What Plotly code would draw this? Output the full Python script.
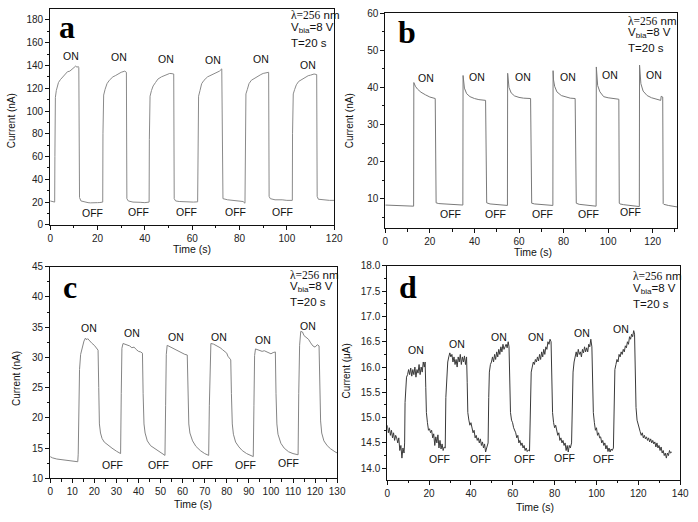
import plotly.graph_objects as go

# ---------------- data ----------------
a_time = [0, 1, 1.9, 2.0, 2.2, 2.6, 3.0, 3.5, 4.3, 5.3, 6.3, 7.3, 8.3, 9.4, 10.1, 10.8, 11.3, 11.9, 12.1,
          12.4, 13, 14.5, 16, 17, 18, 19, 20, 21, 22.2,
          22.3, 22.6, 23.2, 24, 25, 26.5, 27.5, 29, 30, 31.5, 32.2,
          32.4, 33, 35, 36.5, 38, 40, 41.8,
          41.9, 42.2, 42.8, 43.5, 44.5, 45.5, 47, 48, 49.5, 50.5, 51.5, 52.2,
          52.4, 53, 54.5, 56, 58, 59, 60.5, 62.3,
          62.4, 62.7, 63.3, 64, 65, 66.5, 67.5, 69, 70, 71.5, 72.5,
          72.7, 73, 75, 77, 78, 80, 81.5, 82.3,
          82.4, 82.7, 83.3, 84, 85, 86.5, 87.5, 89, 90, 91.5, 92.3,
          92.5, 93, 95, 96.5, 98, 100, 102.3,
          102.4, 102.7, 103.3, 104, 105, 106.5, 107.5, 109, 110, 111.5, 112.6,
          112.8, 113.3, 115, 116.5, 118, 120]
a_current = [21, 20.3, 20, 60, 112, 118, 121, 125, 127.5, 130, 132, 134.5, 135, 137, 138, 139.5, 138.5, 139, 138,
             24, 21, 20, 19.5, 19.3, 19.2, 19, 19.5, 19.6, 20,
             80, 114, 119, 124, 127, 130, 131, 133, 134, 135, 134,
             23, 21, 20, 20.2, 19.8, 19.5, 20,
             75, 113, 118, 122, 125, 128, 130, 131, 132, 133, 132.8, 132.5,
             23, 21, 20.5, 20.3, 20, 20.2, 20, 20.2,
             80, 113, 118, 124, 127, 130, 131, 132.5, 133.5, 135, 137,
             25, 23, 22, 21.5, 21.2, 21, 20.5, 19,
             80, 115, 119, 124, 127, 129, 130.5, 132, 133, 133.5, 134,
             25, 23, 22, 22.2, 22, 21.5, 21.5,
             80, 115, 119, 123, 126, 128, 129.5, 131, 131.5, 132.5, 132,
             25, 22.5, 22, 21.5, 21.5, 21.5]

b_time = [0, 4, 8, 12.7, 12.8, 13.0, 13.5, 14.5, 16, 18, 20, 22.4, 22.5, 22.8, 24, 28, 32, 34.8,
          34.9, 35.1, 35.5, 36.5, 38, 40, 42, 45.0, 45.2, 45.5, 47, 51, 54.8,
          54.9, 55.1, 55.5, 56.5, 58, 60, 62, 65.2, 65.4, 65.7, 67, 71, 75.2,
          75.3, 75.5, 76, 77, 79, 81, 83, 85.2, 85.4, 85.7, 87, 91, 94.6,
          94.7, 94.9, 95.3, 96.3, 98, 100, 102, 104.8, 105, 105.3, 107, 111, 114.0,
          114.1, 114.3, 114.7, 115.7, 117.5, 119.5, 121.5, 123.6, 123.8, 124.5, 124.7, 125, 127, 131]
b_current = [8.3, 8.2, 8.1, 8.0, 41.3, 41.0, 40.3, 39.5, 38.7, 38.0, 37.4, 37.0, 9.0, 8.9, 8.7, 8.5, 8.4, 8.3,
             43.2, 41.5, 39.8, 38.3, 37.5, 37.0, 36.7, 36.5, 9.2, 8.9, 8.6, 8.4, 8.2,
             43.8, 41.8, 40.0, 38.5, 37.7, 37.3, 37.1, 37.0, 9.0, 8.8, 8.6, 8.4, 8.2,
             44.5, 42.0, 40.3, 38.8, 37.8, 37.4, 37.1, 37.0, 9.0, 8.8, 8.5, 8.2, 8.0,
             45.5, 42.5, 40.5, 38.8, 37.5, 37.2, 37.1, 36.8, 8.8, 8.6, 8.4, 8.1, 7.9,
             46.0, 43.0, 41.0, 39.0, 37.8, 37.2, 36.8, 36.5, 37.6, 37.4, 8.7, 8.5, 8.2, 7.8]

c_time = [0, 1, 3, 5, 7, 9, 11, 12.5, 12.7, 13.0, 13.3, 13.8, 14.5, 15.3, 16, 16.5, 17, 18, 19, 20, 21, 21.7,
          22.0, 22.3, 22.8, 23.5, 24.5, 26, 28, 30, 31.5, 31.9,
          32.2, 32.5, 33, 34, 35, 36, 37, 38, 39, 40, 41, 41.8,
          42.1, 42.5, 43, 44, 45.5, 47, 49, 51, 52.0,
          52.3, 52.6, 53, 54, 55, 56, 57, 58, 59, 60, 61, 62.1,
          62.4, 62.8, 63.3, 64.5, 66, 68, 70, 71.8,
          72.1, 72.4, 72.8, 74, 75, 76, 77, 78, 79, 80, 80.5, 81, 81.8,
          82.1, 82.5, 83, 84, 85.5, 87, 89, 91, 92.0,
          92.3, 92.6, 93, 94, 95, 96, 97, 98, 99, 100, 101, 102,
          102.3, 102.7, 103.2, 104.5, 106, 108, 110, 112.3,
          112.6, 113, 113.5, 114.3, 115, 116, 117, 118, 119, 120, 121, 121.8,
          122.1, 122.5, 123, 124, 125.5, 127, 129, 130]
c_current = [13.6, 13.4, 13.2, 13.1, 13.0, 12.9, 12.8, 12.75, 14, 22, 28, 30.5, 31.8, 32.7, 33.2, 32.9, 33.1, 32.6, 32.3, 32.0, 31.5, 31.2,
             25, 19, 17.5, 16.6, 16.0, 15.5, 15.0, 14.5, 14.2, 14.1,
             24, 31.5, 32.3, 32.2, 32.0, 31.9, 31.6, 31.7, 31.3, 31.0, 30.9, 30.7,
             24, 19, 17.5, 16.2, 15.4, 15.0, 14.5, 14.0, 13.8,
             22, 30.5, 32.0, 31.8, 31.6, 31.5, 31.2, 31.0, 30.8, 30.7, 30.5, 30.4,
             24, 19, 17.5, 16.2, 15.3, 14.6, 14.1, 13.8,
             22, 30.5, 32.3, 32.2, 32.0, 31.9, 31.6, 31.3, 31.0, 30.7, 30.2, 29.9, 29.6,
             24, 19, 17.3, 16.0, 15.2, 14.6, 14.1, 13.7, 13.6,
             22, 30.3, 31.4, 31.3, 31.2, 31.0, 31.1, 30.9, 30.8, 30.6, 30.8, 30.9,
             24, 19, 17.3, 15.8, 15.0, 14.4, 14.1, 13.9,
             24, 32, 34.3, 34.2, 33.6, 33.3, 33.0, 32.4, 31.9, 31.7, 32.1, 31.9,
             25, 19.5, 17.5, 16.2, 15.4, 14.9, 14.4, 14.2]

d_time = [0, 0.5, 1, 1.5, 2, 2.5, 3, 3.5, 4, 4.5, 5, 5.5, 6, 6.5, 7, 7.5, 8, 8.3,
          8.5, 8.8, 9.2, 9.7, 10.2, 10.7, 11.2, 11.7, 12.2, 12.7, 13.2, 13.7, 14.2, 14.7, 15.2, 15.7, 16.2, 16.7, 17.2, 17.7, 18.1,
          18.4, 18.7, 19.2, 19.7, 20.2, 20.7, 21.2, 21.7, 22.2, 22.7, 23.2, 23.7, 24.2, 24.7, 25.2, 25.7, 26.2, 26.7, 27.2, 27.7,
          28.0, 28.4, 28.9, 29.4, 29.9, 30.4, 30.9, 31.4, 31.9, 32.4, 32.9, 33.4, 33.9, 34.4, 34.9, 35.4, 35.9, 36.4, 36.9, 37.4, 37.9,
          38.2, 38.5, 39, 39.5, 40, 40.5, 41, 41.5, 42, 42.5, 43, 43.5, 44, 44.5, 45, 45.5, 46, 46.5, 47, 47.5, 48.2,
          48.5, 48.8, 49.3, 49.8, 50.3, 50.8, 51.3, 51.8, 52.3, 52.8, 53.3, 53.8, 54.3, 54.8, 55.3, 55.8, 56.3, 56.8, 57.3, 57.8, 58.2,
          58.5, 58.9, 59.4, 59.9, 60.4, 60.9, 61.4, 61.9, 62.4, 62.9, 63.4, 63.9, 64.4, 64.9, 65.4, 65.9, 66.4, 66.9, 67.4, 68.0,
          68.5, 68.8, 69.3, 69.8, 70.3, 70.8, 71.3, 71.8, 72.3, 72.8, 73.3, 73.8, 74.3, 74.8, 75.3, 75.8, 76.3, 76.8, 77.3, 77.8, 78.3,
          78.6, 79, 79.5, 80, 80.5, 81, 81.5, 82, 82.5, 83, 83.5, 84, 84.5, 85, 85.5, 86, 86.5, 87, 87.5, 88.1,
          88.4, 88.8, 89.3, 89.8, 90.3, 90.8, 91.3, 91.8, 92.3, 92.8, 93.3, 93.8, 94.3, 94.8, 95.3, 95.8, 96.3, 96.8, 97.3, 97.8,
          98.1, 98.5, 99, 99.5, 100, 100.5, 101, 101.5, 102, 102.5, 103, 103.5, 104, 104.5, 105, 105.5, 106, 106.5, 107, 107.5, 108.1,
          108.4, 108.8, 109.3, 109.8, 110.3, 110.8, 111.3, 111.8, 112.3, 112.8, 113.3, 113.8, 114.3, 114.8, 115.3, 115.8, 116.3, 116.8, 117.3, 117.8, 118.2,
          118.5, 118.9, 119.4, 119.9, 120.4, 120.9, 121.4, 121.9, 122.4, 122.9, 123.4, 123.9, 124.4, 124.9, 125.4, 125.9, 126.4, 126.9,
          127.4, 127.9, 128.4, 128.9, 129.4, 129.9, 130.4, 130.9, 131.4, 131.9, 132.4, 132.9, 133.4, 133.9, 134.4, 134.9, 135.4, 136]
d_current = [14.85, 14.7, 14.8, 14.65, 14.75, 14.6, 14.7, 14.55, 14.65, 14.6, 14.5, 14.6, 14.35, 14.45, 14.2, 14.4, 14.3, 14.5,
             15.3, 15.6, 15.8, 15.85, 15.95, 15.85, 15.98, 15.82, 15.95, 15.85, 16.0, 15.8, 15.95, 15.88, 16.05, 15.85, 16.0, 15.9, 16.1, 16.0, 16.1,
             15.6, 15.1, 14.9, 14.75, 14.78, 14.7, 14.75, 14.6, 14.68, 14.45, 14.62, 14.5, 14.66, 14.4, 14.55, 14.38, 14.48, 14.35, 14.42, 14.4,
             15.4, 15.9, 16.1, 16.2, 16.28, 16.2, 16.25, 16.1, 16.2, 16.05, 16.15, 16.0, 16.2, 16.1, 16.25, 16.05, 16.2, 16.1, 16.22, 16.05, 16.2,
             15.7, 15.1, 14.95, 14.85, 14.9, 14.75, 14.7, 14.75, 14.6, 14.65, 14.55, 14.6, 14.5, 14.58, 14.45, 14.52, 14.4, 14.48, 14.32, 14.4, 14.5,
             15.4, 15.9, 16.05, 16.1, 16.2, 16.1, 16.25, 16.15, 16.3, 16.2, 16.35, 16.25, 16.4, 16.3, 16.45, 16.35, 16.4, 16.45, 16.38, 16.5, 16.4,
             15.6, 15.1, 14.95, 14.9, 14.8, 14.75, 14.7, 14.6, 14.65, 14.5, 14.55, 14.45, 14.5, 14.4, 14.45, 14.35, 14.4, 14.33, 14.36, 14.34,
             15.3, 15.9, 16.0, 16.1, 16.05, 16.15, 16.1, 16.2, 16.12, 16.25, 16.15, 16.3, 16.2, 16.35, 16.25, 16.4, 16.35, 16.5, 16.45, 16.55, 16.5,
             15.7, 15.1, 14.9, 14.8, 14.85, 14.7, 14.65, 14.7, 14.55, 14.6, 14.5, 14.55, 14.45, 14.5, 14.35, 14.45, 14.32, 14.45, 14.4, 14.5,
             15.4, 15.9, 16.1, 16.25, 16.3, 16.2, 16.35, 16.25, 16.3, 16.2, 16.35, 16.28, 16.4, 16.3, 16.38, 16.3, 16.45, 16.4, 16.55, 16.4,
             15.8, 15.1, 14.9, 14.75, 14.8, 14.65, 14.7, 14.6, 14.62, 14.5, 14.55, 14.45, 14.5, 14.38, 14.45, 14.33, 14.4, 14.32, 14.38, 14.35, 14.4,
             15.4, 15.95, 16.05, 16.15, 16.1, 16.25, 16.2, 16.3, 16.25, 16.35, 16.3, 16.42, 16.38, 16.5, 16.45, 16.6, 16.55, 16.65, 16.6, 16.72, 16.65,
             15.8, 15.2, 14.95, 14.85, 14.75, 14.72, 14.65, 14.7, 14.6, 14.65, 14.58, 14.62, 14.55, 14.6, 14.52, 14.58, 14.5, 14.55,
             14.48, 14.52, 14.42, 14.5, 14.4, 14.45, 14.35, 14.42, 14.3, 14.35, 14.25, 14.3, 14.2, 14.3, 14.25, 14.35, 14.3, 14.32]

# ON / OFF label positions (time, current) per panel
a_on = [(9.0, 148.7), (29.0, 147.3), (48.8, 145.9), (68.6, 145.0), (88.9, 145.6), (108.8, 140.0)]
a_off = [(18.0, 10.6), (37.5, 11.5), (57.5, 11.5), (78.3, 10.9), (98.2, 11.5)]
b_on = [(18.4, 42.6), (41.2, 42.9), (61.6, 42.9), (81.9, 42.9), (101.0, 43.3), (120.5, 43.3)]
b_off = [(29.2, 6.0), (49.3, 6.0), (70.4, 6.0), (91.3, 6.0), (109.9, 6.4)]
c_on = [(17.8, 34.8), (37.1, 34.1), (57.2, 33.4), (76.5, 33.4), (96.6, 32.9), (116.6, 35.2)]
c_off = [(28.2, 12.2), (49.2, 12.2), (68.8, 12.2), (88.6, 12.2), (108.0, 12.5)]
d_on = [(13.7, 16.34), (33.3, 16.45), (53.2, 16.6), (71.0, 16.6), (92.9, 16.68), (111.8, 16.76)]
d_off = [(25.1, 14.18), (44.4, 14.18), (65.5, 14.18), (84.5, 14.2), (103.5, 14.18)]

panel_letters = ["a", "b", "c", "d"]
y_titles = ["Current (nA)", "Current (nA)", "Current (nA)", "Current (\u03bcA)"]
x_title = "Time (s)"
info_lines = ["<span style='font-family:Liberation Serif'>\u03bb=256</span> nm", "V<sub>bia</sub>=8 V", "T=20 s"]

# ---------------- figure ----------------
W, H = 698, 522
def px(x):
    return x / W
def py(y):
    return 1 - y / H

SANS = "Liberation Sans, Arial, sans-serif"
SERIF = "Liberation Serif, Times New Roman, serif"

fig = go.Figure()
series = [(a_time, a_current, "#8a8a8a"), (b_time, b_current, "#7a7a7a"),
          (c_time, c_current, "#858585"), (d_time, d_current, "#3a3a3a")]
for i, (t, c, col) in enumerate(series):
    sfx = "" if i == 0 else str(i + 1)
    fig.add_trace(go.Scatter(x=t, y=c, mode="lines", line=dict(color=col, width=1),
                             xaxis="x" + sfx, yaxis="y" + sfx, showlegend=False, hoverinfo="skip"))

panels = [
    dict(xd=(48, 337), yd=(224, 3.3), xr=[0, 120], yr=[0, 189.4], xdt=20, xmn=10, ydt=20, ymn=10),
    dict(xd=(389, 686), yd=(227.5, 7.3), xr=[0, 131], yr=[2.05, 60], xdt=20, xmn=10, ydt=10, ymn=5),
    dict(xd=(48, 340), yd=(483.5, 266.8), xr=[0, 130], yr=[10, 45], xdt=10, xmn=5, ydt=5, ymn=2.5),
    dict(xd=(391, 689), yd=(485, 266), xr=[0, 140], yr=[13.77, 18.0], xdt=20, xmn=10, ydt=0.5, ymn=0.25),
]
tickfont = dict(family=SANS, size=10, color="#222")
layout = {}
for i, p in enumerate(panels):
    sfx = "" if i == 0 else str(i + 1)
    common = dict(showline=True, linecolor="#111", linewidth=1, mirror=True, ticks="outside",
                  ticklen=4, tickwidth=1, tickcolor="#111", showgrid=False, zeroline=False,
                  tickfont=tickfont)
    layout["xaxis" + sfx] = dict(common, domain=[px(p["xd"][0]), px(p["xd"][1])], range=p["xr"],
                                 anchor="y" + sfx, dtick=p["xdt"], tick0=0,
                                 minor=dict(ticks="outside", ticklen=2.5, dtick=p["xmn"], tick0=0, tickcolor="#111"))
    layout["yaxis" + sfx] = dict(common, domain=[py(p["yd"][0]), py(p["yd"][1])], range=p["yr"],
                                 anchor="x" + sfx, dtick=p["ydt"], tick0=0,
                                 minor=dict(ticks="outside", ticklen=2.5, dtick=p["ymn"], tick0=0, tickcolor="#111"))
    if i == 3:
        layout["yaxis" + sfx]["tickformat"] = ".1f"

annotations = []
for (lx, ly), letter in zip([(65, 22), (411, 27), (68, 288), (412, 288)], panel_letters):
    annotations.append(dict(x=px(lx), y=py(ly), xref="paper", yref="paper", text="<b>%s</b>" % letter,
                            showarrow=False, font=dict(family=SERIF, size=32, color="#000"),
                            xanchor="center", yanchor="middle"))
info_pos = [(291, [9, 23, 38]), (634, [15, 28, 43]), (290, [275, 288, 303]), (639, [276, 290, 305])]
for x0, ys in info_pos:
    for line, yy in zip(info_lines, ys):
        annotations.append(dict(x=px(x0), y=py(yy), xref="paper", yref="paper", text=line,
                                showarrow=False, font=dict(family=SANS, size=11.5, color="#111"),
                                xanchor="left", yanchor="middle"))
for (tx, ty), t in zip([(8, 117), (352, 117), (13, 381), (349, 374)], y_titles):
    annotations.append(dict(x=px(tx), y=py(ty), xref="paper", yref="paper", text=t, textangle=-90,
                            showarrow=False, font=dict(family=SANS, size=10, color="#111"),
                            xanchor="center", yanchor="middle"))
for tx, ty in [(192, 249), (539, 252), (193, 510), (541, 513)]:
    annotations.append(dict(x=px(tx), y=py(ty), xref="paper", yref="paper", text=x_title,
                            showarrow=False, font=dict(family=SANS, size=10.5, color="#111"),
                            xanchor="center", yanchor="middle"))
for i, (ons, offs) in enumerate([(a_on, a_off), (b_on, b_off), (c_on, c_off), (d_on, d_off)]):
    sfx = "" if i == 0 else str(i + 1)
    for lab, pts in (("ON", ons), ("OFF", offs)):
        for (tx, ty) in pts:
            annotations.append(dict(x=tx, y=ty, xref="x" + sfx, yref="y" + sfx, text=lab, showarrow=False,
                                    font=dict(family=SANS, size=10.5, color="#111"),
                                    xanchor="center", yanchor="middle"))

fig.update_layout(width=W, height=H, autosize=False, margin=dict(l=0, r=0, t=0, b=0),
                  paper_bgcolor="white", plot_bgcolor="white", annotations=annotations, **layout)
fig.write_html("out.html", config={"displayModeBar": False},
               post_script="document.body.style.margin='0';document.body.style.padding='0';")
